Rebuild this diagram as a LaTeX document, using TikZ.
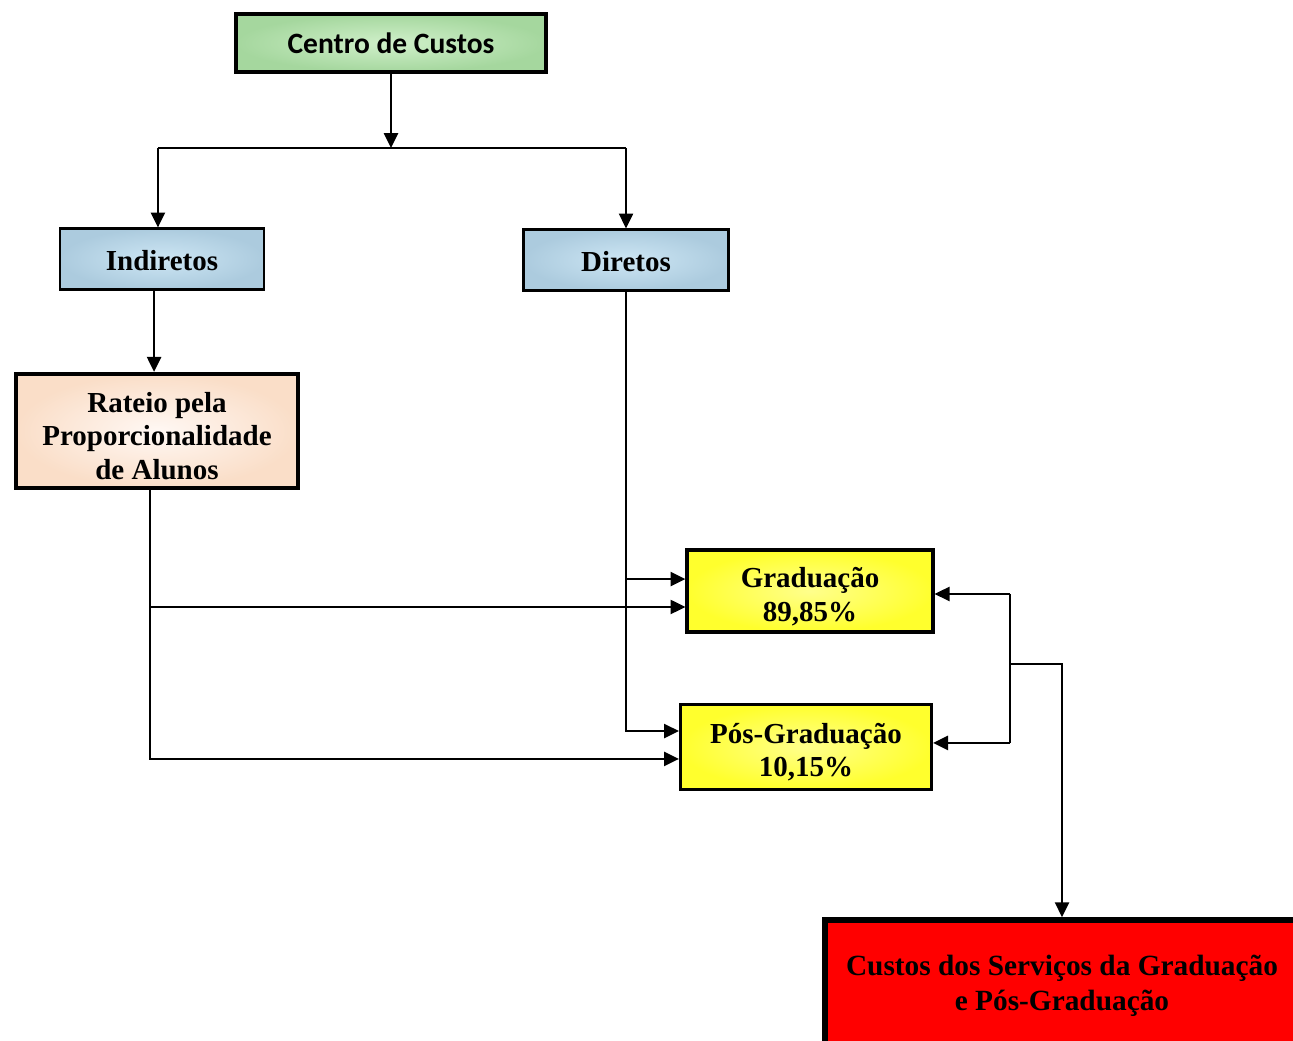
\documentclass[tikz,border=0pt]{standalone}
\usepackage{fontspec}
\setmainfont{Liberation Serif}
\newfontfamily\carlito{Carlito}
\usepackage{xcolor}
\usetikzlibrary{positioning,arrows.meta}

\definecolor{greenOut}{RGB}{165,215,158}
\definecolor{greenIn}{RGB}{208,240,202}
\definecolor{blueOut}{RGB}{172,203,222}
\definecolor{blueIn}{RGB}{205,230,244}
\definecolor{peachOut}{RGB}{250,222,200}
\definecolor{peachIn}{RGB}{255,248,244}
\definecolor{yellowOut}{RGB}{255,255,45}
\definecolor{yellowIn}{RGB}{255,255,140}
\definecolor{custoRed}{RGB}{255,0,0}

% first text line: some extra height, so the text sits lower in its box
\newcommand{\up}[2][5.6pt]{\raisebox{0pt}[\dimexpr\height+#1\relax][\depth]{#2}}

\begin{document}
\begin{tikzpicture}[x=0.02cm, y=-0.02cm,
    box/.style={draw, line width=1.2pt, align=center, inner sep=0pt,
        font=\fontsize{16.5}{19}\selectfont\bfseries},
    arr/.style={-{Triangle[length=8.5pt,width=8pt]}, line width=1.3pt},
    line/.style={line width=1.3pt}]
\clip (0,0) rectangle (1293,1040);

\node[box, font=\carlito\fontsize{16.8}{20}\selectfont\bfseries, line width=1.8pt,
    inner color=greenIn, outer color=greenOut,
    minimum width=6.2cm, minimum height=1.16cm] (centro) at (391,43) {Centro de Custos};

\node[box, inner color=blueIn, outer color=blueOut,
    minimum width=4.08cm, minimum height=1.22cm] (indiretos) at (162,259) {\up[2.2pt]{Indiretos}};
\node[box, inner color=blueIn, outer color=blueOut,
    minimum width=4.1cm, minimum height=1.22cm] (diretos) at (626,260) {\up[2.2pt]{Diretos}};

\node[box, line width=2.4pt, inner color=peachIn, outer color=peachOut,
    minimum width=5.64cm, minimum height=2.28cm] (rateio) at (157,431)
    {\up{Rateio pela}\\Proporcionalidade\\de Alunos};

\node[box, line width=1.8pt, inner color=yellowIn, outer color=yellowOut,
    minimum width=4.92cm, minimum height=1.64cm] (grad) at (810,591)
    {\up[6.6pt]{Graduação}\\89,85\%};
\node[box, line width=1.8pt, inner color=yellowIn, outer color=yellowOut,
    minimum width=5.02cm, minimum height=1.7cm] (pos) at (806,747)
    {\up{Pós-Graduação}\\10,15\%};

\node[box, line width=3.2pt, fill=custoRed, font=\fontsize{16.7}{20}\selectfont\bfseries,
    minimum width=9.48cm, minimum height=2.56cm] (custos) at (1062,984)
    {\up[2.2pt]{Custos dos Serviços da Graduação}\\e Pós-Graduação};

% split below Centro de Custos
\coordinate (split) at (391,148);
\draw[arr] (centro) -- (split);
\draw[line] ([xshift=-2.3pt]indiretos.north |- split) -- (diretos.north |- split);
\draw[arr] ([xshift=-2.3pt]indiretos.north |- split) -- ([xshift=-2.3pt]indiretos.north);
\draw[arr] (diretos.north |- split) -- (diretos.north);

\coordinate (indOut) at ([xshift=-4.5pt]indiretos.south);
\draw[arr] (indOut) -- (indOut |- rateio.north);

% entries into Graduacao and Pos-Graduacao
\coordinate (gIn1) at ([yshift=6.8pt]grad.west);
\coordinate (gIn2) at ([yshift=-9.1pt]grad.west);
\coordinate (pIn1) at ([yshift=9.1pt]pos.west);
\coordinate (pIn2) at ([yshift=-6.8pt]pos.west);
\coordinate (ratOut) at ([xshift=-4pt]rateio.south);

\draw[arr] (diretos.south) |- (pIn1);
\draw[arr] (diretos.south |- gIn1) -- (gIn1);
\draw[arr] (ratOut) |- (pIn2);
\draw[arr] (ratOut |- gIn2) -- (gIn2);

% feedback to Custos
\coordinate (bus) at (1010,664);
\draw[line] ([yshift=-1.7pt]bus |- grad.east) -- ([yshift=2.3pt]bus |- pos.east);
\draw[arr] ([yshift=-1.7pt]bus |- grad.east) -- ([yshift=-1.7pt]grad.east);
\draw[arr] ([yshift=2.3pt]bus |- pos.east) -- ([yshift=2.3pt]pos.east);
\draw[arr] (bus) -| (custos.north);
\end{tikzpicture}
\end{document}
